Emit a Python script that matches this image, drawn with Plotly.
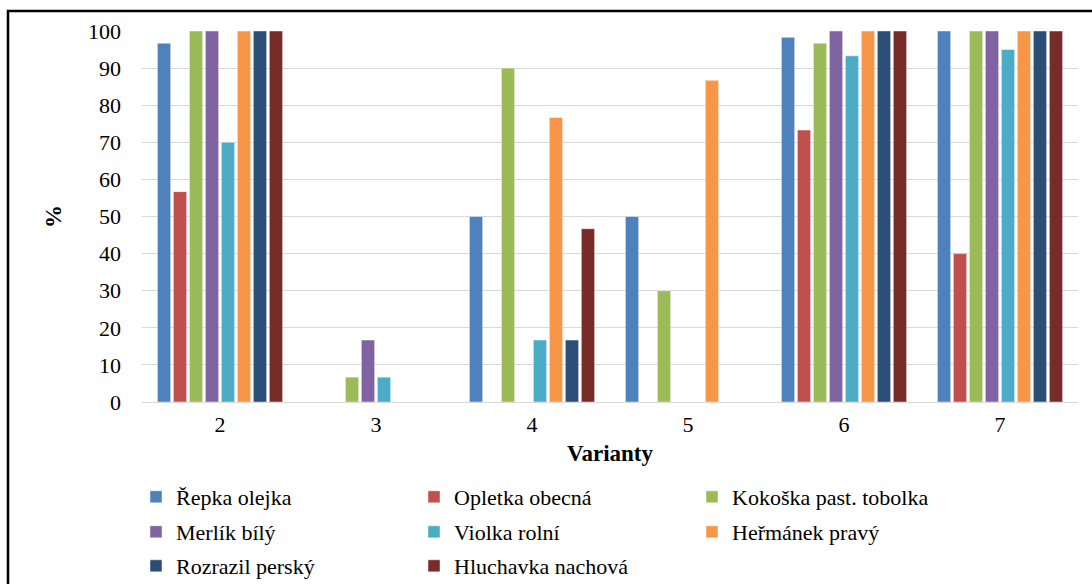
import plotly.graph_objects as go

categories = ["2", "3", "4", "5", "6", "7"]
series_names = ["Řepka olejka", "Opletka obecná", "Kokoška past. tobolka",
                "Merlík bílý", "Violka rolní", "Heřmánek pravý",
                "Rozrazil perský", "Hluchavka nachová"]
repka = [96.7, 0, 50, 50, 98.3, 100]
opletka = [56.7, 0, 0, 0, 73.3, 40]
kokoska = [100, 6.7, 90, 30, 96.7, 100]
merlik = [100, 16.7, 0, 0, 100, 100]
violka = [70, 6.7, 16.7, 0, 93.3, 95]
hermanek = [100, 0, 76.7, 86.7, 100, 100]
rozrazil = [100, 0, 16.7, 0, 100, 100]
hluchavka = [100, 0, 46.7, 0, 100, 100]
values = [repka, opletka, kokoska, merlik, violka, hermanek, rozrazil, hluchavka]
colors = ["#4F81BD", "#C0504D", "#9BBB59", "#8064A2", "#4BACC6", "#F79646", "#2C4D75", "#772C2A"]
legend_ids = ["legend", "legend", "legend", "legend2", "legend2", "legend2", "legend3", "legend3"]

FONT = "Times New Roman, Liberation Serif, serif"
W, H = 1092, 584
ML, MR, MT, MB = 142, 14, 31, 182
PW, PH = W - ML - MR, H - MT - MB

fig = go.Figure()
for name, vals, col, lg in zip(series_names, values, colors, legend_ids):
    fig.add_trace(go.Bar(x=categories, y=vals, name=name, legend=lg,
                         marker=dict(color=col, line=dict(color="rgba(255,255,255,0.45)", width=1))))

def px2x(px):
    return (px - ML) / PW

def py2y(py):
    return (H - MB - py) / PH

leg_common = dict(orientation="h", xanchor="left", yanchor="middle",
                  entrywidth=233, entrywidthmode="pixels",
                  font=dict(family=FONT, size=22, color="#000000"),
                  bgcolor="rgba(0,0,0,0)", traceorder="normal", itemclick=False)

fig.update_layout(
    width=W, height=H,
    margin=dict(l=ML, r=MR, t=MT, b=MB, autoexpand=False),
    paper_bgcolor="white", plot_bgcolor="white",
    barmode="group", bargap=0.18, bargroupgap=0.17,
    font=dict(family=FONT, size=22, color="#000000"),
    showlegend=True,
    legend=dict(x=px2x(136), y=py2y(497), **leg_common),
    legend2=dict(x=px2x(136), y=py2y(532), **leg_common),
    legend3=dict(x=px2x(136), y=py2y(566), **leg_common),
    xaxis=dict(type="category", showline=True, linecolor="#d9d9d9", linewidth=1,
               ticks="", ticklabelstandoff=3, automargin=False,
               tickfont=dict(family=FONT, size=22, color="#000000"),
               title=dict(text="<b>Varianty</b>", standoff=8,
                          font=dict(family=FONT, size=23, color="#000000"))),
    yaxis=dict(range=[0, 100], dtick=10, showgrid=True, gridcolor="#d9d9d9", gridwidth=1,
               zeroline=False, showline=False, ticks="", ticklabelstandoff=20, automargin=False,
               tickfont=dict(family=FONT, size=22, color="#000000"),
               title=dict(text="<b>%</b>", standoff=19,
                          font=dict(family=FONT, size=23, color="#000000"))),
    shapes=[dict(type="rect", xref="paper", yref="paper",
                 x0=px2x(8), x1=px2x(1110), y0=py2y(600), y1=py2y(11),
                 line=dict(color="#000000", width=2.5), fillcolor="rgba(0,0,0,0)", layer="above")],
)

fig.write_html("out.html", config={"displayModeBar": False},
               post_script="document.body.style.margin='0px';")
